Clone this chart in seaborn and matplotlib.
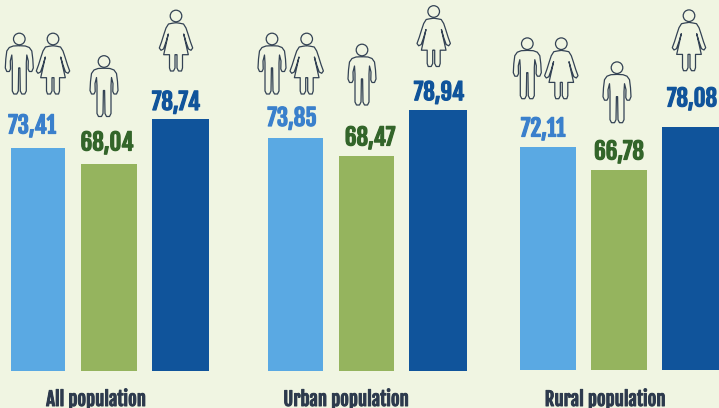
import pandas as pd
import matplotlib.pyplot as plt
import matplotlib.patheffects as pe
import seaborn as sns

# Data
groups = ["All population", "Urban population", "Rural population"]
series = ["Total", "Men", "Women"]
total_labels = ["73,41", "73,85", "72,11"]
men_labels = ["68,04", "68,47", "66,78"]
women_labels = ["78,74", "78,94", "78,08"]
# bar lengths as drawn (the picture does not scale them exactly to the labels)
total_lengths = [223, 233, 223]
men_lengths = [207, 215, 200]
women_lengths = [252, 261, 243]

BG = "#f0f5e2"
BAR_COLORS = ["#5aa9e3", "#95b45e", "#10549b"]
LABEL_COLORS = ["#3a80cc", "#33652a", "#10549b"]
ICON_COLOR = "#334254"
BASE = 371  # pixel row of the baseline

# Left edge and width of each bar, per series then per group
lefts = [[11, 268, 520], [81, 339, 591], [152, 409, 662]]
widths = [[54, 55, 56], [56, 55, 56], [57, 58, 58]]
label_xy = [
    [(32, 123), (292, 115.5), (543, 126)],
    [(107, 140), (370, 135), (619, 149)],
    [(176, 99.5), (439, 89.7), (692, 96)],
]
group_label_x = [96, 346, 605]

# Icons: kind, x of head centre, y of head centre
icons = [
    ("m", 19.3, 39), ("w", 53, 39), ("m", 104, 61.5), ("w", 176, 16),
    ("m", 272, 39), ("w", 306.7, 39), ("m", 362, 50), ("w", 433.7, 11.5),
    ("m", 527.3, 43.7), ("w", 561.3, 43.7), ("m", 617, 67.7), ("w", 689, 15.7),
]
MAN_HALF = [
    (0, 6.7), (6, 7), (10, 8.5), (12.5, 12), (13.5, 20), (14, 29), (12.5, 32.5),
    (10, 32.5), (8.8, 30), (9, 22), (7.5, 16), (7, 24), (7, 52), (5.5, 55),
    (2.5, 55), (1, 52), (0.6, 29), (0, 29),
]
WOMAN_HALF = [
    (0, 6.7), (4, 7.3), (7.5, 8), (10, 12), (12, 18), (14.5, 26), (16.7, 32),
    (15, 34.3), (12.5, 33), (10, 26), (7.7, 18), (9, 24), (12.3, 38.7),
    (6.5, 38.7), (6.5, 52), (5.5, 55), (2.5, 55), (1, 52), (1, 38.7), (0, 38.7),
]


def draw_icon(ax, kind, cx, cy):
    half = MAN_HALF if kind == "m" else WOMAN_HALF
    for sign in (1, -1):
        xs = [cx + sign * p[0] for p in half]
        ys = [BASE - (cy + p[1]) for p in half]
        ax.plot(xs, ys, color=ICON_COLOR, lw=0.9, solid_joinstyle="round", zorder=3)
    head = plt.Circle((cx, BASE - cy), 5.8, fill=False, ec=ICON_COLOR, lw=0.9, zorder=3)
    ax.add_patch(head)


df = pd.DataFrame(
    {
        "x": [lefts[i][j] + widths[i][j] / 2 for i in range(3) for j in range(3)],
        "length": total_lengths + men_lengths + women_lengths,
        "series": [s for s in series for _ in groups],
    }
)

sns.set_theme(style="white")
plt.rcParams["font.family"] = ["Fjalla One", "Anton", "DejaVu Sans"]

fig = plt.figure(figsize=(7.19, 4.08), dpi=100, facecolor=BG)
ax = fig.add_axes([0, 0, 1, 1])
sns.barplot(
    data=df,
    x="x",
    y="length",
    hue="series",
    hue_order=series,
    palette=BAR_COLORS,
    native_scale=True,
    dodge=False,
    saturation=1,
    legend=False,
    ax=ax,
)

# Nudge the bars to the edges measured on the picture
for i, container in enumerate(ax.containers):
    for j, bar in enumerate(container):
        bar.set_x(lefts[i][j])
        bar.set_width(widths[i][j])
        bar.set_linewidth(0)
        if j == 2:
            bar.set_y(1)

ax.set_xlim(0, 719)
ax.set_ylim(BASE - 408, BASE)
ax.axis("off")

all_labels = [total_labels, men_labels, women_labels]
for i in range(3):
    for j in range(3):
        x, y = label_xy[i][j]
        ax.text(
            x, BASE - y, all_labels[i][j], color=LABEL_COLORS[i], fontsize=16.5,
            ha="center", va="center_baseline",
            path_effects=[pe.withStroke(linewidth=0.9, foreground=LABEL_COLORS[i])],
        )

for j, name in enumerate(groups):
    ax.text(
        group_label_x[j], BASE - 406, name, color="#2d3a4d", fontsize=13.5,
        ha="center", va="baseline",
        path_effects=[pe.withStroke(linewidth=0.7, foreground="#2d3a4d")],
    )

for kind, cx, cy in icons:
    draw_icon(ax, kind, cx, cy)

fig.savefig("out.png", dpi=100, facecolor=BG)
